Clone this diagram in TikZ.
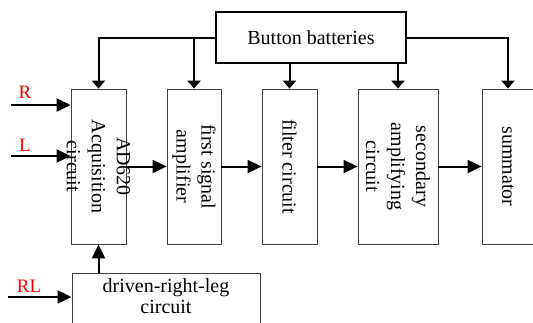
\documentclass[tikz,border=0pt]{standalone}
\usepackage{fontspec}
\setmainfont{Liberation Serif}
\usetikzlibrary{arrows.meta}
\begin{document}
\begin{tikzpicture}[x=1pt,y=-1pt,
  blk/.style={draw=black!75,line width=0.8pt,rectangle,inner sep=0pt,fill=white},
  txt/.style={font=\fontsize{20}{25}\selectfont,align=center,inner sep=0pt},
  vtxt/.style={txt,rotate=-90},
  lbl/.style={text=red,font=\fontsize{19}{22}\selectfont,inner sep=0pt},
  arr/.style={line width=2pt,-{Triangle[length=14pt,width=13pt]}},
  tarr/.style={line width=2pt,-{Triangle[length=8pt,width=13pt]}}]
\useasboundingbox (0,0) rectangle (533,322);
% blocks
\node[draw=black,line width=2pt,rectangle,inner sep=0pt,minimum width=190pt,minimum height=51pt,
  font=\fontsize{20}{24}\selectfont] (bat) at (311,37.5) {Button batteries};
\node[blk,minimum width=55pt,minimum height=155pt] (acq) at (98.5,166.5) {};
\node[blk,minimum width=54pt,minimum height=155pt] (amp) at (194,166.5) {};
\node[blk,minimum width=55pt,minimum height=155pt] (filt) at (289.5,166.5) {};
\node[blk,minimum width=80pt,minimum height=155pt] (sec) at (398,166.5) {};
\node[blk,minimum width=52pt,minimum height=155pt] (sum) at (508,166.5) {};
\node[blk,minimum width=188pt,minimum height=62pt] (drl) at (166,304) {};
% texts
\node[vtxt] (acqt) at (acq.center) {AD620\\Acquisition\\circuit};
\node[vtxt] (ampt) at (amp.center) {first signal\\amplifier};
\node[vtxt] (filtt) at (filt.center) {filter circuit};
\node[vtxt] (sect) at (sec.center) {secondary\\amplifying\\circuit};
\node[vtxt] (sumt) at (sum.center) {summator};
\node[txt,font=\fontsize{20}{21}\selectfont,anchor=north] (drlt) at (166,278) {driven-right-leg\\circuit};
% labels
\node[lbl] (rl) at (25,92) {R};
\node[lbl] (ll) at (25,145) {L};
\node[lbl] (rll) at (29,286) {RL};
% input coordinates
\coordinate (rin) at (11,105);
\coordinate (lin) at (11,156);
\coordinate (rlin) at (8,297);
% power distribution
\coordinate (j1) at (amp.north |- bat.west);
\draw[tarr] (bat.west) -| (acq.north);
\draw[tarr] (j1) -- (amp.north);
\draw[tarr] (bat.south -| filt.north) -- (filt.north);
\draw[tarr] (bat.south -| sec.north) -- (sec.north);
\draw[tarr] (bat.east) -| (sum.north);
% signal chain
\draw[arr] (acq.east) -- (amp.west);
\draw[arr] (amp.east) -- (filt.west);
\draw[arr] (filt.east) -- (sec.west);
\draw[arr] (sec.east) -- (sum.west);
\draw[arr] (drl.north -| acq.north) -- (acq.south);
% inputs
\draw[arr] (rin) -- (rin -| acq.west);
\draw[arr] (lin) -- (lin -| acq.west);
\draw[arr] (rlin) -- (rlin -| drl.west);
\end{tikzpicture}
\end{document}
